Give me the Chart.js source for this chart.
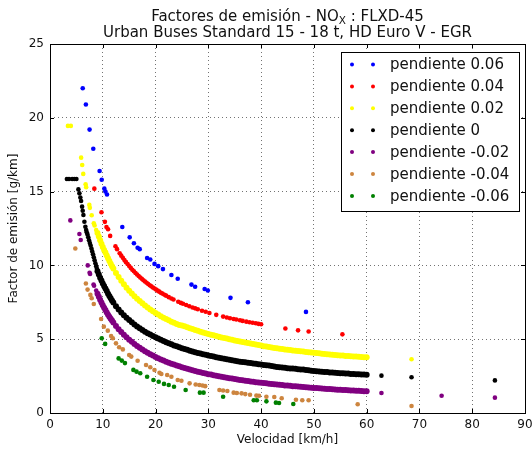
<!DOCTYPE html>
<html><head><meta charset="utf-8">
<script src="https://cdn.jsdelivr.net/npm/chart.js@4"></script>
<style>html,body{margin:0;padding:0;background:#fff}#wrap{width:532px;height:450px;position:relative}</style>
</head><body><div id="wrap"><canvas id="c" width="532" height="450"></canvas></div>
<script>
// ---------- DATA ----------
const seriesLabels = ['pendiente 0.06','pendiente 0.04','pendiente 0.02','pendiente 0','pendiente -0.02','pendiente -0.04','pendiente -0.06'];
const xTickValues = [0,10,20,30,40,50,60,70,80,90];
const yTickValues = [0,5,10,15,20,25];

// speeds (km/h) of the dense bands
const vDense = [9,9.25,9.5,9.75,10,10.25,10.5,10.75,11,11.25,11.5,11.75,12,
12.5,13,13.5,14,14.5,15,15.5,16,16.5,17,
17.5,18,18.5,19,19.5,20,20.5,21,21.5,22,
22.5,23,23.5,24,24.5,25,25.5,26,26.5,27,
27.5,28,28.5,29,29.5,30,30.5,31,31.5,32,
32.5,33,33.5,34,34.5,35,35.5,36,36.5,37,
37.5,38,38.5,39,39.5,40,40.5,41,41.5,42,
42.5,43,43.5,44,44.5,45,45.5,46,46.5,47,
47.5,48,48.5,49,49.5,50,50.5,51,51.5,52,
52.5,53,53.5,54,54.5,55,55.5,56,56.5,57,
57.5,58,58.5,59,59.5,60];

const pend002Dense = [12.2,11.95,11.7,11.47,11.25,11.04,10.87,10.67,10.48,10.3,10.12,9.95,9.79,
9.49,9.21,8.96,8.72,8.49,8.29,8.09,7.91,7.74,7.58,
7.43,7.28,7.15,7.02,6.9,6.78,6.67,6.56,6.46,6.37,
6.28,6.19,6.11,6.03,5.97,5.93,5.87,5.81,5.75,5.69,
5.63,5.57,5.51,5.46,5.4,5.35,5.3,5.26,5.21,5.17,
5.12,5.08,5.04,5.0,4.96,4.92,4.88,4.85,4.81,4.78,
4.74,4.71,4.67,4.64,4.6,4.57,4.53,4.5,4.47,4.44,
4.41,4.38,4.36,4.33,4.31,4.29,4.26,4.24,4.22,4.2,
4.18,4.16,4.14,4.12,4.1,4.08,4.06,4.04,4.02,4.0,
3.98,3.97,3.95,3.93,3.92,3.9,3.89,3.87,3.86,3.85,
3.83,3.82,3.81,3.79,3.78,3.77];

const pend0Dense = [9.61,9.38,9.17,8.97,8.78,8.6,8.43,8.26,8.08,7.92,7.77,7.62,7.49,
7.24,7.02,6.81,6.63,6.46,6.3,6.14,5.99,5.86,5.74,
5.62,5.51,5.41,5.31,5.21,5.14,5.04,4.96,4.88,4.8,
4.72,4.65,4.58,4.52,4.45,4.39,4.33,4.28,4.22,4.17,
4.12,4.07,4.03,3.98,3.94,3.9,3.86,3.82,3.78,3.74,
3.71,3.67,3.64,3.61,3.57,3.54,3.51,3.48,3.46,3.43,
3.4,3.38,3.35,3.33,3.3,3.28,3.25,3.23,3.21,3.19,
3.15,3.12,3.1,3.08,3.06,3.04,3.02,3.01,2.99,2.97,
2.95,2.94,2.91,2.89,2.87,2.85,2.83,2.81,2.79,2.78,
2.77,2.75,2.74,2.73,2.71,2.7,2.69,2.68,2.67,2.65,
2.64,2.63,2.62,2.61,2.6,2.59];

const pendM002Dense = [8.08,7.87,7.67,7.48,7.3,7.13,6.97,6.81,6.66,6.52,6.39,6.26,6.13,
5.9,5.68,5.49,5.3,5.13,4.97,4.82,4.68,4.54,4.42,
4.3,4.19,4.08,3.98,3.89,3.8,3.71,3.63,3.56,3.48,
3.41,3.34,3.28,3.22,3.16,3.1,3.05,2.99,2.94,2.89,
2.85,2.8,2.76,2.71,2.67,2.63,2.6,2.56,2.52,2.49,
2.45,2.42,2.39,2.36,2.33,2.3,2.27,2.24,2.22,2.19,
2.17,2.14,2.12,2.09,2.07,2.05,2.03,2.01,1.99,1.97,
1.95,1.93,1.91,1.89,1.87,1.86,1.84,1.82,1.81,1.79,
1.77,1.76,1.74,1.73,1.71,1.7,1.69,1.67,1.66,1.65,
1.63,1.62,1.61,1.6,1.58,1.57,1.56,1.55,1.54,1.53,
1.52,1.51,1.5,1.49,1.48,1.47];

// isolated points [speed, factor]
const pend006 = [[6.2,22.0],[6.8,20.9],[7.5,19.2],[8.2,17.9],[9.4,16.4],[9.8,15.8],[10.3,15.2],[10.5,15.0],[10.8,14.8],[13.7,12.6],[15.1,11.9],[15.9,11.5],[16.6,11.2],[17.0,11.1],[18.4,10.5],[19.0,10.4],[19.8,10.1],[20.5,9.95],[21.4,9.75],[23.0,9.35],[24.2,9.1],[26.8,8.7],[27.5,8.55],[29.3,8.4],[29.9,8.3],[34.2,7.8],[37.5,7.5],[48.5,6.85]];

const pend004 = [[8.4,15.2],[9.75,13.6],[10.4,12.95],[10.7,12.6],[11.0,12.45],[11.4,12.0],[12.4,11.3],[12.7,11.1],[13.2,10.82],[13.5,10.66],[13.8,10.51],[14.1,10.36],[14.4,10.22],[14.7,10.09],[15.0,9.96],[15.3,9.83],[15.6,9.71],[15.9,9.6],[16.2,9.49],[16.5,9.38],[16.8,9.28],[17.1,9.18],[17.4,9.09],[17.7,8.99],[18.0,8.91],[18.3,8.82],[18.6,8.74],[18.9,8.66],[19.2,8.58],[19.5,8.5],[19.8,8.43],[20.1,8.36],[20.4,8.29],[20.7,8.22],[21.0,8.15],[21.3,8.09],[21.7,8.01],[22.0,7.95],[22.5,7.85],[23.0,7.76],[23.4,7.69],[24.3,7.54],[24.8,7.46],[25.2,7.4],[25.8,7.32],[26.4,7.23],[27.0,7.15],[27.5,7.09],[28.0,7.03],[28.8,6.93],[29.5,6.86],[30.2,6.78],[31.5,6.65],[32.8,6.53],[33.5,6.47],[34.1,6.42],[34.8,6.37],[35.3,6.33],[36.0,6.28],[36.5,6.24],[37.2,6.19],[37.8,6.15],[38.4,6.11],[39.0,6.08],[39.5,6.04],[40.0,6.01],[44.6,5.72],[47.0,5.6],[49.0,5.52],[55.4,5.33]];

const pend002 = [[3.4,19.45],[3.95,19.45],[5.9,17.3],[6.1,16.8],[6.3,16.2],[6.75,15.5],[6.85,15.3],[7.45,14.1],[7.55,13.9],[7.9,13.4],[8.3,12.85],[8.45,12.7],[8.75,12.4],[68.5,3.64]];

const pend0 = [[3.2,15.85],[3.6,15.85],[4.2,15.85],[4.6,15.85],[5.0,15.85],[5.38,15.15],[5.57,14.88],[5.75,14.6],[5.89,14.36],[6.08,13.98],[6.2,13.7],[6.33,13.41],[6.52,12.96],[6.7,12.62],[6.85,12.4],[6.96,12.25],[7.1,12.1],[7.25,11.9],[7.4,11.7],[7.55,11.52],[7.7,11.35],[7.85,11.15],[8.0,10.95],[8.15,10.75],[8.3,10.55],[8.45,10.35],[8.6,10.15],[8.75,9.95],[8.88,9.78],[62.8,2.53],[68.5,2.42],[84.3,2.21]];

const pendM002 = [[3.85,13.05],[5.57,12.13],[5.82,11.72],[7.15,10.0],[7.5,9.5],[7.6,9.42],[8.25,8.7],[8.35,8.62],[8.75,8.3],[62.8,1.36],[74.2,1.17],[84.3,1.04]];

const pendM004 = [[4.8,11.15],[6.8,8.77],[7.12,8.36],[7.65,8.0],[7.9,7.77],[8.3,7.38],[9.68,6.37],[10.2,5.85],[10.95,5.58],[11.58,5.22],[11.9,5.06],[12.5,4.72],[13.1,4.45],[13.8,4.31],[15.0,3.93],[15.4,3.82],[16.6,3.54],[18.2,3.25],[19.0,3.1],[19.8,2.91],[20.75,2.73],[21.1,2.64],[22.2,2.57],[23.0,2.46],[24.2,2.24],[24.9,2.19],[26.45,2.01],[27.6,1.93],[28.3,1.9],[28.9,1.86],[29.4,1.82],[32.1,1.56],[32.8,1.52],[33.6,1.49],[34.8,1.38],[35.4,1.36],[36.3,1.33],[37.0,1.28],[37.9,1.24],[39.1,1.18],[39.6,1.17],[41.0,1.1],[42.5,1.08],[43.9,1.0],[46.6,0.9],[47.8,0.86],[49.0,0.86],[58.3,0.59],[68.5,0.47]];

const pendM006 = [[9.8,5.06],[10.45,4.68],[13.0,3.7],[13.6,3.55],[14.2,3.38],[15.8,2.92],[16.4,2.8],[17.1,2.69],[18.4,2.46],[19.6,2.24],[20.6,2.12],[21.6,1.97],[22.5,1.9],[23.5,1.78],[25.7,1.56],[28.4,1.38],[29.1,1.38],[32.8,1.1],[38.6,0.86],[39.2,0.86],[41.0,0.79],[42.8,0.7],[43.4,0.68],[46.1,0.61]];

// ---------- STYLE ----------
const colors = ['#0000ff','#ff0000','#ffff00','#000000','#800080','#cd853f','#008000'];
const FONT = "'DejaVu Sans', 'Liberation Sans', sans-serif";
const TXT = '#111';

const pairs = p => p.map(d => ({x: d[0], y: d[1]}));
const dense = ys => vDense.map((v, i) => ({x: v, y: ys[i]}));

const sparseSets = [pend006, pend004, pend002, pend0, pendM002, pendM004, pendM006];
const denseSets = {2: pend002Dense, 3: pend0Dense, 4: pendM002Dense};

const datasets = [];
sparseSets.forEach((s, i) => {
  datasets.push({label: seriesLabels[i], data: pairs(s), backgroundColor: colors[i], borderColor: colors[i],
    pointRadius: 2.3, pointBorderWidth: 0, pointHoverRadius: 2.3, showLine: false, order: -2 * i});
  if (denseSets[i]) {
    datasets.push({label: seriesLabels[i] + ' (band)', data: dense(denseSets[i]), backgroundColor: colors[i], borderColor: colors[i],
      pointRadius: 3, pointBorderWidth: 0, pointHoverRadius: 3, showLine: false, order: -2 * i - 1});
  }
});

const overlay = {
  id: 'overlay',
  afterDraw(chart) {
    const {ctx, chartArea: a, scales: {x, y}} = chart;
    ctx.save();
    // inward ticks
    ctx.strokeStyle = '#000'; ctx.lineWidth = 1;
    ctx.beginPath();
    xTickValues.forEach(v => {
      const px = Math.round(x.getPixelForValue(v)) + 0.5;
      ctx.moveTo(px, a.bottom); ctx.lineTo(px, a.bottom - 4);
      ctx.moveTo(px, a.top); ctx.lineTo(px, a.top + 4);
    });
    yTickValues.forEach(v => {
      const py = Math.round(y.getPixelForValue(v)) + 0.5;
      ctx.moveTo(a.left, py); ctx.lineTo(a.left + 4, py);
      ctx.moveTo(a.right, py); ctx.lineTo(a.right - 4, py);
    });
    ctx.stroke();
    // frame
    ctx.strokeRect(Math.round(a.left) + 0.5, Math.round(a.top) + 0.5,
      Math.round(a.right) - Math.round(a.left), Math.round(a.bottom) - Math.round(a.top));

    // title
    const cx = (a.left + a.right) / 2;
    ctx.fillStyle = TXT;
    ctx.textBaseline = 'alphabetic';
    const big = '15px ' + FONT, small = '10.5px ' + FONT;
    const p1 = 'Factores de emisión - NO', p2 = 'X', p3 = ' : FLXD-45';
    ctx.font = big; const w1 = ctx.measureText(p1).width, w3 = ctx.measureText(p3).width;
    ctx.font = small; const w2 = ctx.measureText(p2).width;
    let sx = cx - (w1 + w2 + w3) / 2;
    ctx.textAlign = 'left';
    ctx.font = big; ctx.fillText(p1, sx, 21); sx += w1;
    ctx.font = small; ctx.fillText(p2, sx, 24); sx += w2;
    ctx.font = big; ctx.fillText(p3, sx, 21);
    ctx.textAlign = 'center';
    ctx.fillText('Urban Buses Standard 15 - 18 t, HD Euro V - EGR', cx, 37);

    // legend
    const lx = 341.5, ly = 52.5, lw = 178, lh = 159;
    ctx.fillStyle = '#fff';
    ctx.fillRect(lx, ly, lw, lh);
    ctx.strokeStyle = '#000';
    ctx.strokeRect(lx, ly, lw, lh);
    ctx.textAlign = 'left'; ctx.textBaseline = 'middle';
    ctx.font = '15px ' + FONT;
    seriesLabels.forEach((t, i) => {
      const cy = 64.5 + i * 21.9;
      ctx.fillStyle = colors[i];
      [352, 373].forEach(dx => { ctx.beginPath(); ctx.arc(dx, cy, 2, 0, Math.PI * 2); ctx.fill(); });
      ctx.fillStyle = TXT;
      ctx.fillText(t, 390, cy + 1);
    });
    ctx.restore();
  }
};

const gridColor = (edgeA, edgeB) => c => (c.tick && (c.tick.value === edgeA || c.tick.value === edgeB)) ? 'rgba(0,0,0,0)' : 'rgba(0,0,0,0.55)';

new Chart(document.getElementById('c'), {
  type: 'scatter',
  data: {datasets},
  options: {
    responsive: false, animation: false, events: [],
    layout: {padding: {top: 44, right: 7, left: 0, bottom: 0}},
    plugins: {legend: {display: false}, tooltip: {enabled: false}, title: {display: false}},
    scales: {
      x: {
        type: 'linear', min: 0, max: 90,
        afterBuildTicks: s => { s.ticks = xTickValues.map(v => ({value: v})); },
        afterFit: s => { s.height = 37; s.paddingLeft = 0; s.paddingRight = 0; },
        ticks: {font: {family: FONT, size: 12}, color: TXT, padding: 5, maxRotation: 0, autoSkip: false},
        grid: {color: gridColor(0, 90), lineWidth: 1, drawTicks: false},
        border: {display: false, dash: [1, 3]},
        title: {display: true, text: 'Velocidad [km/h]', font: {family: FONT, size: 12}, color: TXT, padding: {top: 0, bottom: 3}}
      },
      y: {
        type: 'linear', min: 0, max: 25,
        afterBuildTicks: s => { s.ticks = yTickValues.map(v => ({value: v})); },
        afterFit: s => { s.width = 50; s.paddingTop = 0; s.paddingBottom = 0; },
        ticks: {font: {family: FONT, size: 12}, color: TXT, padding: 6, autoSkip: false},
        grid: {color: gridColor(0, 25), lineWidth: 1, drawTicks: false},
        border: {display: false, dash: [1, 3]},
        title: {display: true, text: 'Factor de emisión [g/km]', font: {family: FONT, size: 12}, color: TXT, padding: {top: 7, bottom: 0}}
      }
    }
  },
  plugins: [overlay]
});
</script>
</body></html>
